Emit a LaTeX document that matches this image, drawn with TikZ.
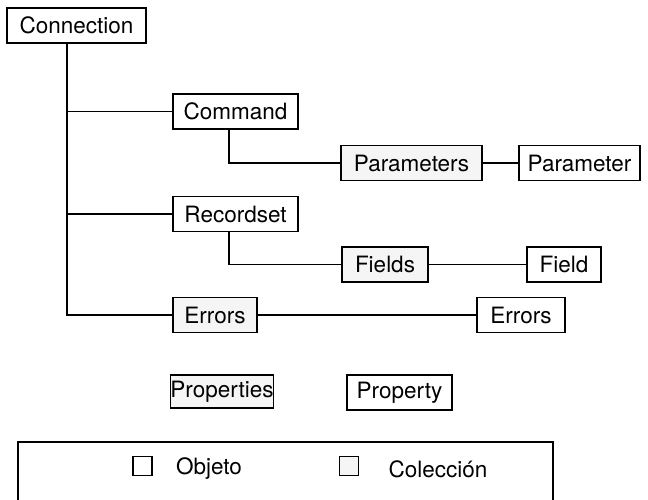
\documentclass[tikz,border=0pt]{standalone}
\usepackage{fontspec}
\setmainfont{TeX Gyre Heros}
\usepackage{tikz}
\usetikzlibrary{positioning}

\tikzset{
	obj/.style={inner sep = 0pt, draw, line width=1.4pt, minimum height=35pt, font=\fontsize{22.5}{26}\selectfont},
	coll/.style={obj, fill=black!4},
	link/.style={line width=1.4pt}
}

\begin{document}
\begin{tikzpicture}
		\useasboundingbox (0pt,0pt) rectangle (648pt,-499pt);
		\draw (76.5pt,-25.5pt) node[obj, minimum width=139pt] (conn){Connection}
		(235.5pt,-111.5pt) node[obj, minimum width=125pt] (cmd) {Command}
		(411.5pt,-163pt) node[coll, minimum width=141pt] (params) {Parameters}
		(579.5pt,-163pt) node[obj, minimum width=121pt] (param) {Parameter}
		(235.5pt,-214pt) node[obj, minimum width=125pt] (rs) {Recordset}
		(385pt,-264.5pt) node[coll, minimum width=86pt] (flds) {Fields}
		(564pt,-264.5pt) node[obj, minimum width=74pt] (fld) {Field}
		(215pt,-315pt) node[coll, minimum width=84pt] (errs) {Errors}
		(521pt,-315pt) node[obj, minimum width=88pt] (err) {Errors}
		(222pt,-391.5pt) node[coll, minimum width=102pt, minimum height=33pt] (props) {Properties}
		(399.5pt,-392.5pt) node[obj, minimum width=105pt] (prop) {Property};

		\coordinate (trunk) at (67pt,0pt);
		\coordinate (cmdleg) at (229pt,0pt);

		\draw[link] (conn.south -| trunk) |- (errs.west);
		\draw[link] (trunk |- cmd.west) -- (cmd.west);
		\draw[link] (trunk |- rs.west) -- (rs.west);
		\draw[link] (cmd.south -| cmdleg) |- (params.west);
		\draw[link] (rs.south -| cmdleg) |- (flds.west);
		\draw[link] (params) -- (param);
		\draw[link] (flds) -- (fld);
		\draw[link] (errs) -- (err);

		% legend
		\draw[link] (18pt,-502pt) |- (553pt,-442pt) -- (553pt,-502pt);
		\draw (142.5pt,-466pt) node[obj, minimum width=19pt, minimum height=19pt, line width=1.2pt] (keyobj){}
		(209pt,-469pt) node[font=\fontsize{22.5}{26}\selectfont] (txtobj) {Objeto}
		(349pt,-466pt) node[coll, minimum width=19pt, minimum height=19pt, line width=1.2pt] (keycoll){}
		(438pt,-469pt) node[font=\fontsize{22.5}{26}\selectfont] (txtcoll) {Colección};
	\end{tikzpicture}
\end{document}
